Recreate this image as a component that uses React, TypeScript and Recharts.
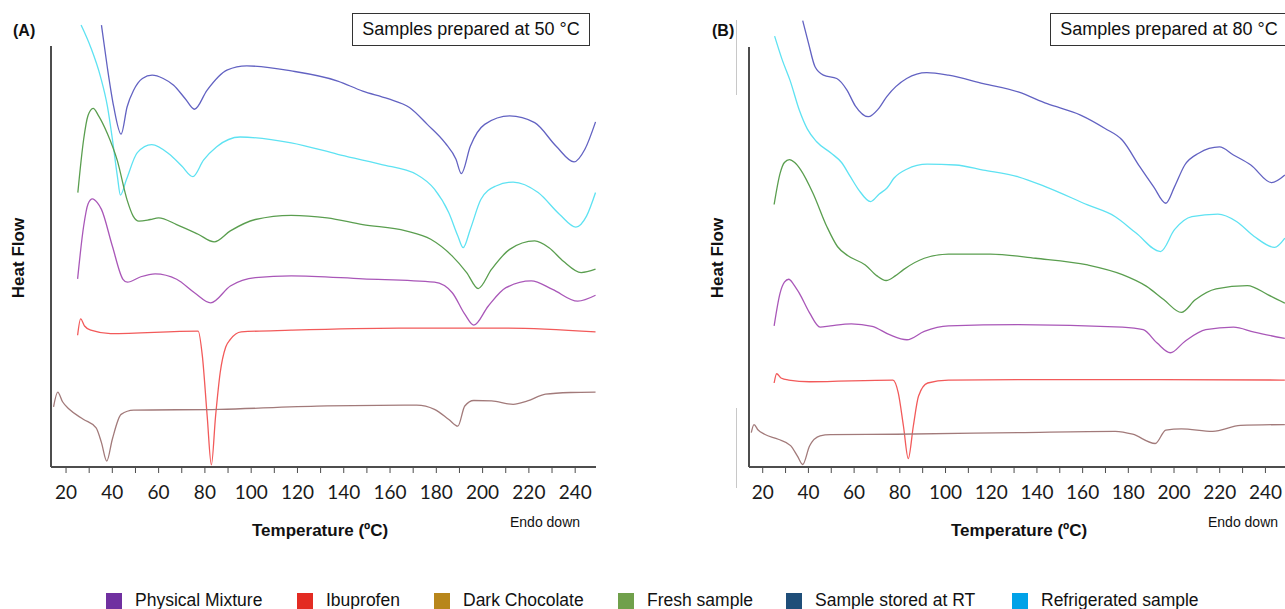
import React from "react";
import { LineChart, Line, XAxis, YAxis, ReferenceLine } from "recharts";

type Pt = [number, number];

// temperature (°C), heat flow (a.u., 100 = top of the y axis)
// (A) samples prepared at 50 °C
const physicalMixtureA: Pt[] = [
  [35.3, 105], [37.8, 95.1], [40.6, 85.6], [43.8, 79.1], [46.4, 85.6], [49.2, 89.5], [53, 92.3],
  [57.2, 93.1], [62, 92.3], [66.5, 90.7], [71.5, 87.5], [75.5, 85], [80.9, 89.5], [89.5, 94.3],
  [98.1, 95.3], [117.3, 94.1], [137.4, 91.7], [148.2, 89.3], [159.1, 87.5], [168.4, 85.4],
  [176.1, 81.4], [183.8, 77], [188.5, 73.1], [190.8, 69.7], [194.7, 76.2], [200.9, 81.4], [211.7, 83.4],
  [222.5, 81.8], [231.8, 76.2], [239.5, 72.5], [244.2, 75.5], [248.8, 82],
];
const refrigeratedA: Pt[] = [
  [26.5, 105], [30.6, 99.8], [34.9, 92.7], [37.9, 85.6], [40.1, 77.6], [42.2, 69], [43.5, 64.6],
  [46.1, 68.3], [50.8, 74.7], [57, 76.6], [64.7, 74.3], [70, 71.5], [74.8, 69], [79.4, 72.9], [85.1, 76.1],
  [95.2, 78.4], [117.3, 77], [137.4, 74.3], [156, 71.9], [171.5, 69.5],
  [179.2, 66], [185.4, 60.4], [189.3, 54.9], [191.6, 52.1], [194.7, 56.5], [199.3, 63.6], [205.5, 66.7],
  [213.2, 67.7], [224, 65.2], [233.3, 60], [240.3, 57], [244.9, 59.6], [248.8, 65.2],
];
const freshA: Pt[] = [
  [25.1, 65.2], [27.6, 77.8], [29.5, 83.5], [31.7, 85.2], [34, 83.5], [37.8, 79.3], [42.1, 72.9],
  [46.4, 63.4], [49, 59.6], [51.5, 58.4], [56.4, 58.8], [60, 59.2], [67.8, 57.6], [77.1, 55.3], [84, 53.5],
  [91, 56.1], [101.8, 58.8], [117.3, 59.8], [132.8, 59.2], [148.2, 57.6], [166.8, 56.1], [177.6, 54.1],
  [186.9, 50.1], [193.1, 46.2], [198.1, 42.4], [203.9, 47], [211.7, 51.7], [222.5, 53.7], [228.7, 52.1],
  [234.9, 48.9], [242.6, 46.2], [248.8, 47],
];
const storedRTA: Pt[] = [
  [25, 44.7], [27.6, 57.2], [29.5, 62.5], [31.4, 63.7], [33.5, 62.8], [35.3, 61.2], [40, 52.5], [44.6, 44.6],
  [46.5, 43.9], [52.3, 45.2], [58.5, 45.9], [67.8, 44.6], [75.5, 41.4], [82.5, 39], [91, 43], [101.8, 45],
  [117.3, 45.4], [148.2, 44.7], [179.2, 43.9], [186.9, 41.4], [192.3, 36.3], [196.2, 33.7], [202.4, 38.2],
  [210.1, 42.6], [221, 44.2], [230.2, 42.2], [241.1, 39.4], [248.8, 40.8],
];
const ibuprofenA: Pt[] = [
  [25, 31.3], [26.3, 35.2], [28, 33.5], [30.7, 32.5], [39.2, 31.7], [77.1, 32.3], [78.9, 26.4], [81, 12],
  [82.8, 0.5], [84.6, 12], [86.6, 22.4], [89, 28.5], [91, 30.3], [95.7, 32.1], [117.3, 32.5], [163.7, 33],
  [210.1, 33], [248.8, 32.1],
];
const darkChocolateA: Pt[] = [
  [14.6, 14.3], [16.4, 17.8], [18.5, 15.5], [21.4, 13.7], [27.6, 11.3], [33, 9.3], [35.3, 5.8], [37.6, 1.4],
  [40, 6.6], [43.8, 12.5], [49.2, 13.5], [86.4, 13.7], [132.8, 14.5], [171.5, 14.7], [179.2, 13.7],
  [185.4, 11.3], [189.3, 9.7], [192.3, 14.5], [196.2, 15.8], [203.9, 15.7], [213.2, 14.9], [219.4, 15.7],
  [227.2, 17.3], [238, 17.7], [248.8, 17.8],
];

// (B) samples prepared at 80 °C
const physicalMixtureB: Pt[] = [
  [37.5, 106.3], [40, 101], [42.9, 95.3], [46.6, 93.3], [52.4, 92.5], [56.8, 89.8], [60.5, 86], [66.2, 83.4],
  [70.5, 85.2], [74.3, 88.2], [83, 92.5], [91.8, 93.9], [101.3, 93.3], [116.5, 91.3], [131.8, 89.3],
  [144.5, 86.5], [159.1, 83.8], [169.8, 80.6], [177.4, 77.8], [185, 71.5], [191.1, 66.7], [196.4, 62.8],
  [200.2, 66.7], [204.7, 71.9], [210.8, 74.7], [219.9, 76.2], [226, 74.3], [233.6, 71.9], [242.7, 67.7],
  [248.5, 69.5],
];
const refrigeratedB: Pt[] = [
  [25.2, 102.6], [28.5, 97], [32, 92], [36, 85], [39.5, 80.5], [43.5, 77.5], [50, 74.7], [54.5, 72.5],
  [58.5, 69], [62, 66], [67.2, 63.2], [71, 65], [74.5, 66.5], [77.5, 68.8], [83, 70.9], [92, 72.1],
  [104.4, 71.9], [116.5, 70.7], [131.8, 69.1], [143.9, 66.7], [162.2, 62.4], [174.3, 59.6], [183.4, 55.7],
  [194.1, 51.3], [200.2, 56.5], [207.8, 59.6], [219.2, 60.2], [227.5, 58.4], [235.1, 54.9], [244, 52.3],
  [248.5, 54.5],
];
const freshB: Pt[] = [
  [25, 62.5], [27.6, 69.9], [29.5, 72.5], [31.7, 73.2], [34, 72.5], [36.7, 70.7], [42, 65.2], [48.1, 57.2],
  [52.7, 52.5], [57.3, 50.3], [64.9, 48.1], [70, 45.5], [74, 44.4], [78, 45.5], [81.6, 47], [90.7, 49.7],
  [101.3, 50.7], [119.6, 50.7], [139.4, 49.7], [162.2, 48.1], [177.4, 45.8], [188, 43], [195.6, 39.8],
  [203.2, 36.8], [209.3, 39.8], [218.4, 42.4], [232.1, 43.2], [241.2, 41], [248.5, 39],
];
const storedRTB: Pt[] = [
  [25, 33.6], [27.6, 41.4], [29.5, 44], [31.4, 44.7], [33.5, 43.5], [36, 41.4], [40.5, 36.7], [45.1, 33.3],
  [49.6, 33.6], [58.8, 34.1], [67.9, 33.5], [75.5, 31.5], [83.1, 30.3], [90.7, 32.3], [101.3, 33.6],
  [131.8, 33.9], [177.4, 33.3], [186.5, 32.7], [192.6, 29.5], [198.4, 27.2], [204.7, 29.9], [213.9, 32.7],
  [226, 33.3], [235.1, 32.1], [248.5, 30.6],
];
const ibuprofenB: Pt[] = [
  [25, 20], [26.1, 22.2], [28, 21.2], [31.4, 20.7], [40.5, 20.3], [77, 20.7], [79.3, 17.7], [81.6, 9.7],
  [83.7, 2], [85.9, 9.7], [88.2, 16.9], [92.2, 20], [101.3, 20.7], [131.8, 20.8], [192.6, 20.8], [248.5, 20.7],
];
const darkChocolateB: Pt[] = [
  [15, 8.2], [16.2, 10.1], [18, 8.8], [20.8, 7.8], [26.8, 6.6], [32.2, 5.1], [35.2, 2.6], [37.5, 0.6],
  [40.5, 5], [45.1, 7.4], [49.6, 7.7], [78.5, 7.8], [131.8, 8.2], [174.3, 8.5], [181.9, 7.8], [191.8, 5.6],
  [196.4, 8.8], [203.2, 9.1], [216.9, 8.5], [229.1, 9.9], [248.5, 10.1],
];

const seriesNames = ["Physical Mixture", "Refrigerated sample", "Fresh sample", "Sample stored at RT", "Ibuprofen", "Dark Chocolate"];
const lineColors = ["#6262c2", "#5ee2f2", "#5a9e4f", "#a957b8", "#f25a5a", "#a27a7a"];

const xTicks = [20, 30, 40, 50, 60, 70, 80, 90, 100, 110, 120, 130, 140, 150, 160, 170, 180, 190, 200, 210, 220, 230, 240];

const legendNames = ["Physical Mixture", "Ibuprofen", "Dark Chocolate", "Fresh sample", "Sample stored at RT", "Refrigerated sample"];
const legendColors = ["#7030a0", "#e32b22", "#b8861b", "#70a04b", "#1f4e79", "#00a2e8"];
const legendLeft = [106, 297, 434, 618, 786, 1012];

const toRows = (pts: Pt[]) => pts.map(([t, hf]) => ({ t, hf }));

type PanelProps = {
  series: Pt[][];
  domain: [number, number];
  width: number;
  left: number;
  right: number;
  top: number;
};

const Panel = ({ series, domain, width, left, right, top }: PanelProps) => (
  <LineChart width={width} height={520} margin={{ top, right, left, bottom: 23 }}>
    <XAxis
      type="number"
      dataKey="t"
      domain={domain}
      allowDataOverflow
      ticks={xTicks}
      interval={0}
      tickFormatter={(v: number) => (v % 20 === 0 ? String(v) : "")}
      tick={{ fill: "#1a1a1a", fontSize: 19, fontFamily: "Lato, sans-serif" }}
      tickSize={6}
      tickMargin={13}
      axisLine={{ stroke: "#4d4d4d", strokeWidth: 2 }}
      tickLine={{ stroke: "#4d4d4d", strokeWidth: 1 }}
      height={30}
    />
    <YAxis type="number" domain={[0, 110]} hide />
    <ReferenceLine
      segment={[{ x: domain[0], y: 0 }, { x: domain[0], y: 100 }]}
      stroke="#4d4d4d"
      strokeWidth={2}
    />
    {series.map((pts, i) => (
      <Line
        key={seriesNames[i]}
        name={seriesNames[i]}
        data={toRows(pts)}
        dataKey="hf"
        type="monotone"
        stroke={lineColors[i]}
        strokeWidth={1.3}
        dot={false}
        isAnimationActive={false}
      />
    ))}
  </LineChart>
);

const abs = (left: number, top: number): React.CSSProperties => ({ position: "absolute", left, top });

const Decor = ({ x, letter, boxText }: { x: number; letter: string; boxText: string }) => (
  <>
    <div style={{ ...abs(x + 13, 22), fontWeight: "bold", fontSize: 16 }}>{letter}</div>
    <div
      style={{
        ...abs(x + (letter === "(A)" ? 352 : 351), 13),
        width: 238,
        height: 33,
        boxSizing: "border-box",
        border: "1.5px solid #333",
        fontSize: 18,
        lineHeight: "30px",
        textAlign: "center",
        background: "#fff",
      }}
    >
      {boxText}
    </div>
    <div
      style={{
        ...abs(x + 19 - 60, 248),
        width: 120,
        textAlign: "center",
        transform: "rotate(-90deg)",
        fontWeight: "bold",
        fontSize: 17,
      }}
    >
      Heat Flow
    </div>
  </>
);

export default function App() {
  return (
    <div
      style={{
        position: "fixed",
        left: 0,
        top: 0,
        width: 1285,
        height: 609,
        overflow: "hidden",
        background: "#fff",
        fontFamily: "'Liberation Sans', Arial, sans-serif",
        color: "#111",
      }}
    >
      <div style={abs(0, 0)}>
        <Panel
          series={[physicalMixtureA, refrigeratedA, freshA, storedRTA, ibuprofenA, darkChocolateA]}
          domain={[13.5, 249]}
          width={620}
          left={51}
          right={24}
          top={4}
        />
      </div>
      <div style={abs(700, 0)}>
        <Panel
          series={[physicalMixtureB, refrigeratedB, freshB, storedRTB, ibuprofenB, darkChocolateB]}
          domain={[14, 249]}
          width={600}
          left={49}
          right={14}
          top={5}
        />
      </div>

      <Decor x={0} letter="(A)" boxText="Samples prepared at 50 °C" />
      <Decor x={699} letter="(B)" boxText="Samples prepared at 80 °C" />

      <div style={{ ...abs(736, 20), width: 1, height: 75, background: "#c8c8c8" }} />
      <div style={{ ...abs(736, 408), width: 1, height: 80, background: "#c8c8c8" }} />

      <div style={{ ...abs(252, 521), fontWeight: "bold", fontSize: 17 }}>Temperature (ºC)</div>
      <div style={{ ...abs(951, 521), fontWeight: "bold", fontSize: 17 }}>Temperature (ºC)</div>
      <div style={{ ...abs(510, 514), fontSize: 14 }}>Endo down</div>
      <div style={{ ...abs(1208, 514), fontSize: 14 }}>Endo down</div>

      {legendNames.map((name, i) => (
        <div key={name} style={{ ...abs(legendLeft[i], 590), display: "flex", alignItems: "center" }}>
          <div style={{ width: 16, height: 16, background: legendColors[i], marginRight: 13 }} />
          <span style={{ fontSize: 17.5 }}>{name}</span>
        </div>
      ))}
    </div>
  );
}
